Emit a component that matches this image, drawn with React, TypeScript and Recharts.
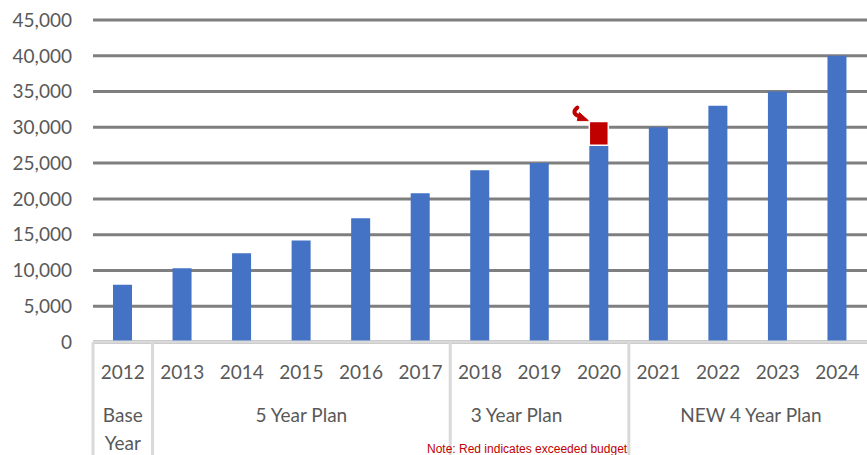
import React from 'react';
import { BarChart, Bar, XAxis, YAxis, CartesianGrid, LabelList } from 'recharts';

const years = ['2012', '2013', '2014', '2015', '2016', '2017', '2018', '2019', '2020', '2021', '2022', '2023', '2024'];
const budget = [8000, 10300, 12400, 14200, 17300, 20800, 24000, 25000, 27500, 30000, 33000, 35000, 40000];
const overBudget = [0, 0, 0, 0, 0, 0, 0, 0, 3300, 0, 0, 0, 0];
const yTicks = [0, 5000, 10000, 15000, 20000, 25000, 30000, 35000, 40000, 45000];

const groupNames = ['Base Year', '5 Year Plan', '3 Year Plan', 'NEW 4 Year Plan'];
const groupStarts = [0, 1, 6, 9];
const groupSizes = [1, 5, 3, 4];
// the source draws some group titles a bit off-centre
const groupShift = [0, 0, -23, 3];

const data = years.map((year, i) => ({ year, budget: budget[i], over: overBudget[i] }));

const FONT = 'Lato, "Open Sans", sans-serif';
const TEXT = '#595959';
const FRAME = '#d9d9d9';
const AXIS_H = 113;

// year label, plus group separator and group name on the first year of each group
const YearTick = (props: any) => {
  const { x, y, payload, width, visibleTicksCount } = props;
  const step = width / visibleTicksCount;
  const left = x - step / 2;
  const g = groupStarts.indexOf(payload.index);
  let group = null;
  if (g >= 0) {
    const cx = left + (groupSizes[g] * step) / 2 + groupShift[g];
    const lines = g === 0 ? groupNames[g].split(' ') : [groupNames[g]];
    group = (
      <g>
        <line x1={left} x2={left} y1={y} y2={y + AXIS_H} stroke={FRAME} strokeWidth={3} />
        <text x={cx} y={y + 80} textAnchor="middle" fontFamily={FONT} fontSize={19} fill={TEXT}>
          {lines.map((l, i) => (
            <tspan key={i} x={cx} dy={i === 0 ? 0 : 28}>{l}</tspan>
          ))}
        </text>
      </g>
    );
  }
  return (
    <g>
      {group}
      <text x={x} y={y + 37} textAnchor="middle" fontFamily={FONT} fontSize={19} fill={TEXT}>
        {payload.value}
      </text>
    </g>
  );
};

const OverArrow = (props: any) => {
  const { x, y, value } = props;
  if (!value) return null;
  return (
    <g fill="#c00000" stroke="#c00000">
      <path d={`M ${x - 12} ${y - 14} Q ${x - 19} ${y - 8} ${x - 9} ${y - 5}`} fill="none" strokeWidth={4} strokeLinecap="round" />
      <path d={`M ${x - 10} ${y - 9} L ${x - 1} ${y - 1} L ${x - 12} ${y - 1} Z`} strokeWidth={1} />
    </g>
  );
};

export default function App() {
  return (
    <div style={{ position: 'absolute', left: 0, top: 0, width: 867, height: 455, background: '#fff' }}>
      <BarChart width={867} height={455} data={data} margin={{ top: 20, right: 0, left: 0, bottom: 0 }} barCategoryGap={0}>
        <CartesianGrid vertical={false} stroke="#7f7f7f" strokeWidth={3} />
        <XAxis
          dataKey="year"
          height={AXIS_H}
          interval={0}
          axisLine={{ stroke: FRAME, strokeWidth: 3 }}
          tickLine={false}
          tickSize={0}
          tickMargin={0}
          tick={<YearTick />}
        />
        <YAxis
          width={93}
          domain={[0, 45000]}
          ticks={yTicks}
          interval={0}
          axisLine={false}
          tickLine={false}
          tickSize={0}
          tickMargin={21}
          tick={{ fontFamily: FONT, fontSize: 19, fill: TEXT }}
          tickFormatter={(v: number) => v.toLocaleString('en-US')}
        />
        <Bar dataKey="budget" stackId="a" fill="#4472c4" barSize={19} isAnimationActive={false} />
        <Bar dataKey="over" stackId="a" fill="#c00000" stroke="#ffffff" strokeWidth={1.5} barSize={19} isAnimationActive={false}>
          <LabelList dataKey="over" content={<OverArrow />} />
        </Bar>
      </BarChart>
      <div
        style={{
          position: 'absolute',
          left: 427,
          top: 442,
          fontFamily: '"Liberation Sans", Arial, sans-serif',
          fontSize: 12,
          color: '#c00000',
          whiteSpace: 'nowrap',
        }}
      >
        Note: Red indicates exceeded budget
      </div>
    </div>
  );
}
